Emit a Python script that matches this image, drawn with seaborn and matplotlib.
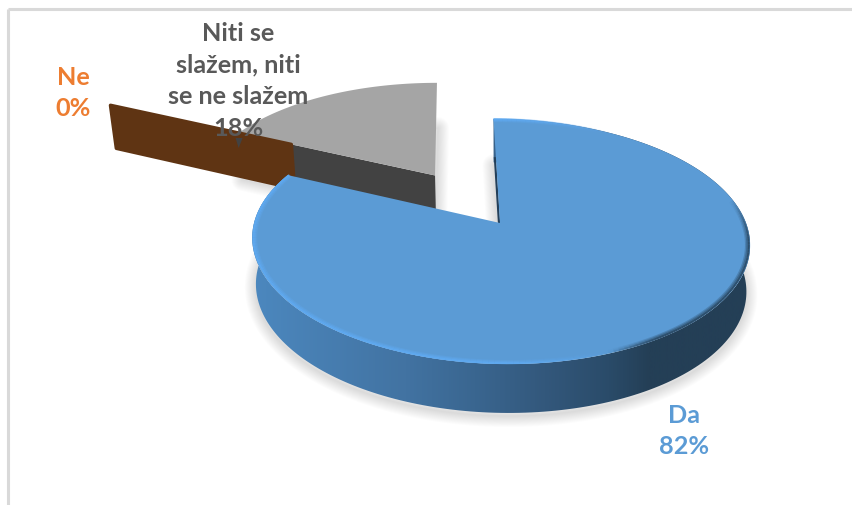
import numpy as np
import matplotlib
matplotlib.use("Agg")
import matplotlib.pyplot as plt
import seaborn as sns
from matplotlib.collections import LineCollection
from matplotlib.colors import LinearSegmentedColormap, to_rgb
from matplotlib.patches import Polygon

# Survey answers
answers = ["Da", "Ne", "Niti se\nslažem, niti\nse ne slažem"]
shares = [82, 0, 18]
explode = [0, 0.72, 0.50]

sns.set_theme(style="white")
plt.rcParams["font.family"] = ["Lato", "DejaVu Sans"]

top_colors = ["#5B9BD5", "#5F3413", "#A5A5A5"]
cut_colors = ["#24405A", "#5F3413", "#424242"]
label_colors = ["#5B9BD5", "#ED7D31", "#595959"]

fig = plt.figure(figsize=(8.52, 5.06), dpi=100, facecolor="white")
ax = fig.add_axes([0, 0, 1, 1])

# The pie supplies each slice's angles and exploded centre on the unit disc
wedges, _ = ax.pie(shares, explode=explode, startangle=90, counterclock=False)
slices = [(w.theta1, w.theta2, np.array(w.center, dtype=float)) for w in wedges]
for w in wedges:
    w.remove()
# The empty slice travels with the slice it sits against
slices[1] = (slices[1][0], slices[1][1], slices[1][2] + slices[2][2])

ax.set_aspect("auto")
ax.set_xlim(0, 852)
ax.set_ylim(506, 0)
ax.axis("off")


def top_plane(u, v):
    """Perspective view of the disc's upper face, in figure pixels."""
    u, v = np.asarray(u, float), np.asarray(v, float)
    d = 1 + 0.151 * v
    return (500 + 246 * u + 68 * v) / d, (224 - 85.9 * v) / d


def bottom_plane(u, v):
    x, y = top_plane(u, v)
    return 501 + (x - 501) * 0.985, y + 46 / (1 + 0.06 * np.asarray(v, float))


def arc(theta1, theta2, centre, n=240):
    t = np.radians(np.linspace(theta1, theta2, n))
    return centre[0] + np.cos(t), centre[1] + np.sin(t)


def outline(plane, theta1, theta2, centre):
    u, v = arc(theta1, theta2, centre)
    return np.column_stack(plane(np.r_[centre[0], u], np.r_[centre[1], v]))


def cut_face(theta, centre):
    t = np.radians(theta)
    ends_u = np.array([centre[0], centre[0] + np.cos(t)])
    ends_v = np.array([centre[1], centre[1] + np.sin(t)])
    upper = np.column_stack(top_plane(ends_u, ends_v))
    lower = np.column_stack(bottom_plane(ends_u, ends_v))
    return np.vstack([upper, lower[::-1]])


def soft_shadow(points, zorder=1):
    shifted = points + np.array([0, 3])
    for lw in np.linspace(16, 1, 12):
        ax.add_patch(Polygon(shifted, closed=True, fc="none", ec="black", lw=lw,
                             alpha=0.013, joinstyle="round", zorder=zorder))


# Chart frame: only the top and left rules are in view
ax.plot([8, 852], [10, 10], color="#D9D9D9", lw=2.2, zorder=0, solid_capstyle="butt")
ax.plot([8, 8], [10, 506], color="#D9D9D9", lw=2.2, zorder=0, solid_capstyle="butt")

da, ne, niti = slices

# Grey slice: cast shadow, cut face, upper face
soft_shadow(outline(bottom_plane, *niti), zorder=1)
grey_cut = cut_face(niti[1], niti[2])
ax.add_patch(Polygon(grey_cut, closed=True, fc=cut_colors[2], ec="none", zorder=2))
ax.add_patch(Polygon(outline(top_plane, *niti), closed=True,
                     fc=top_colors[2], ec="none", zorder=3))

# The empty slice shows only as its cut face
ax.add_patch(Polygon(cut_face(ne[0], ne[2]), closed=True,
                     fc=cut_colors[1], ec=cut_colors[1], lw=2.5, joinstyle="round", zorder=4))

# Tip of the grey slice's far corner, showing through over the brown face
corner = grey_cut[1]
ax.add_patch(Polygon(corner + np.array([[-3, 5], [4, 5], [0, 15]]), closed=True,
                     fc=cut_colors[2], ec="none", zorder=5))

# Blue slice: cast shadow, shaded side wall, upper face
soft_shadow(outline(bottom_plane, *da), zorder=1)
u, v = arc(da[0], da[1], da[2])
rim_top = np.column_stack(top_plane(u, v))
rim_bot = np.column_stack(bottom_plane(u, v))
wall = Polygon(np.vstack([rim_top, rim_bot[::-1]]), closed=True, fc="none", ec="none",
               transform=ax.transData)
ax.add_patch(wall)
wall_cmap = LinearSegmentedColormap.from_list(
    "wall",
    [(0.0, "#4C88BF"), (0.31, "#4273A2"), (0.45, "#3A6690"), (0.59, "#33587C"),
     (0.72, "#2A4B69"), (0.80, "#243F56"), (1.0, "#243F56")],
)
shade = ax.imshow(np.linspace(0, 1, 512)[None, :], cmap=wall_cmap, aspect="auto",
                  extent=(250, 750, 506, 0), zorder=5)
shade.set_clip_path(wall)
ax.set_xlim(0, 852)
ax.set_ylim(506, 0)

# Dark sliver along the slice's first cut edge
t = np.radians(da[1])
sliver_u = np.cos(t) * np.array([0.0, 0.6])
sliver_v = np.sin(t) * np.array([0.0, 0.6])
sx, sy = top_plane(sliver_u, sliver_v)
ax.plot(sx - 1.0, sy, color=cut_colors[0], lw=1.6, zorder=5, solid_capstyle="butt")

ax.add_patch(Polygon(outline(top_plane, *da), closed=True,
                     fc=top_colors[0], ec="none", zorder=6))

# Bevelled rim: light on the left and front, dark towards the right
light = np.array(to_rgb("#5FA9F0"))
dark = np.array(to_rgb("#2C4C68"))
for inset, lw, weight in [(0.012, 3.0, 0.3), (0.009, 2.2, 0.45), (0.005, 1.4, 0.9)]:
    ru = u * (1 - inset)
    rv = v * (1 - inset)
    x, y = top_plane(ru, rv)
    pts = np.column_stack([x, y])
    segs = np.stack([pts[:-1], pts[1:]], axis=1)
    mx, mv = 0.5 * (x[:-1] + x[1:]), 0.5 * (rv[:-1] + rv[1:])
    colours = np.zeros((len(mx), 4))
    for i, (px, pv) in enumerate(zip(mx, mv)):
        if px < 610:
            colours[i, :3] = light
            colours[i, 3] = np.clip((610 - px) / 110, 0, 1)
        else:
            colours[i, :3] = dark
            colours[i, 3] = np.clip((px - 610) / 50, 0, 1) * np.clip((0.2 - pv) / 0.35, 0, 1)
    colours[:, 3] *= weight
    ax.add_collection(LineCollection(segs, colors=colours, linewidths=lw, zorder=7,
                                     capstyle="butt"))

# Data labels
label_font = dict(fontsize=18.2, fontweight="bold", ha="center", va="center", zorder=9)
for name, share, colour, (lx, ly), spacing in zip(
    answers, shares, label_colors, [(684, 431), (73, 93), (238, 81)], [1.38, 1.47, 1.47]
):
    ax.text(lx, ly, f"{name}\n{share}%", color=colour, linespacing=spacing, **label_font)

fig.savefig("out.png", dpi=100, facecolor="white")
